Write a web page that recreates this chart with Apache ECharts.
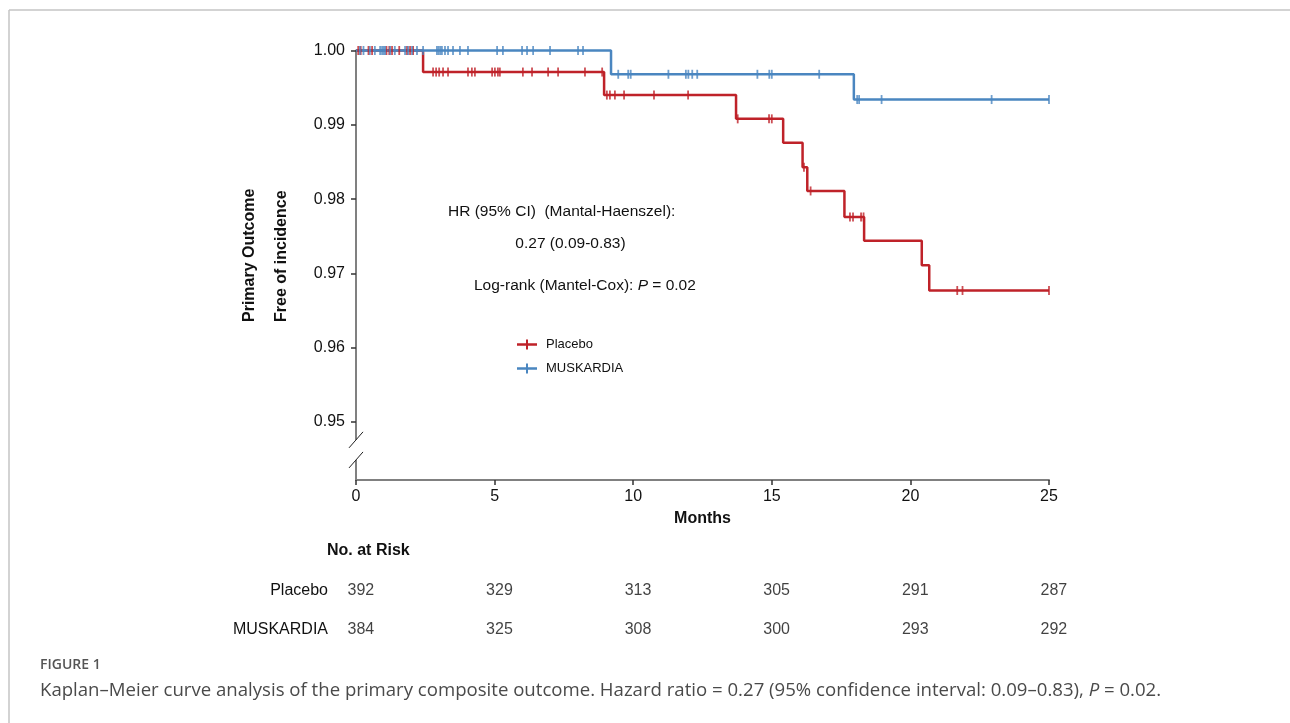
<!DOCTYPE html>
<html>
<head>
<meta charset="utf-8">
<script src="https://cdn.jsdelivr.net/npm/echarts@6/dist/echarts.min.js"></script>
<style>
html,body{margin:0;padding:0;background:#fff;}
#chart{width:1290px;height:723px;}
</style>
</head>
<body>
<div id="chart"></div>
<script>
// ---- Data ----
const placeboTimes = [0, 2.42, 8.95, 13.71, 15.41, 16.11, 16.28, 17.62, 18.33, 20.41, 20.68, 25];
const placeboSurv  = [1.0, 0.9971, 0.9940, 0.9908, 0.9876, 0.9843, 0.9811, 0.9776, 0.9744, 0.9711, 0.9677, 0.9677];
const muskTimes = [0, 9.2, 17.96, 25];
const muskSurv  = [1.0, 0.9968, 0.9934, 0.9934];

const placeboCensor = [0.08, 0.17, 0.45, 0.58, 1.1, 1.2, 1.3, 1.56, 1.84, 1.95, 2.06,
  2.78, 2.89, 3.0, 3.14, 3.32, 4.04, 4.18, 4.29, 4.91, 5.01, 5.12, 5.19, 6.02, 6.35, 6.93, 7.29, 8.26, 8.88,
  9.05, 9.16, 9.34, 9.67, 10.75, 11.98,
  13.77, 14.9, 15.0, 16.16, 16.4, 17.82, 17.93, 18.22, 18.31, 21.69, 21.88, 25.0];
const muskCensor = [0.14, 0.27, 0.5, 0.68, 0.87, 0.94, 1.0, 1.05, 1.23, 1.4, 1.77, 1.88, 2.02, 2.2, 2.42,
  2.92, 2.98, 3.04, 3.1, 3.21, 3.32, 3.5, 3.75, 4.04, 5.09, 5.3, 5.99, 6.17, 6.39, 7.0, 8.01, 8.19,
  9.46, 9.82, 9.91, 11.27, 11.9, 11.99, 12.13, 12.31, 14.48, 14.91, 15.0, 16.71,
  18.08, 18.15, 18.96, 22.93, 25.0];

const yTickValues = [0.95, 0.96, 0.97, 0.98, 0.99, 1.00];
const riskTimes   = [0, 5, 10, 15, 20, 25];
const riskGroups  = ['Placebo', 'MUSKARDIA'];
const riskPlacebo = [392, 329, 313, 305, 291, 287];
const riskMusk    = [384, 325, 308, 300, 293, 292];

// ---- Helpers ----
const RED = '#BF2229';
const BLUE = '#4A86C0';
const FONT = 'Liberation Sans';
const CAP_FONT = 'Open Sans';
function stepAt(times, surv, t) {
  let v = surv[0];
  for (let i = 0; i < times.length; i++) { if (times[i] <= t) v = surv[i]; }
  return v;
}
const placeboLine = placeboTimes.map((t, i) => [t, placeboSurv[i]]);
const muskLine = muskTimes.map((t, i) => [t, muskSurv[i]]);
const placeboMarks = placeboCensor.map(t => [t, stepAt(placeboTimes, placeboSurv, t)]);
const muskMarks = muskCensor.map(t => [t, stepAt(muskTimes, muskSurv, t)]);
const riskData = [];
riskTimes.forEach((t, i) => {
  riskData.push([t, riskGroups[0], riskPlacebo[i]]);
  riskData.push([t, riskGroups[1], riskMusk[i]]);
});

const chart = echarts.init(document.getElementById('chart'), null, {renderer: 'canvas'});
const plusIcon = 'path://M0,3.75 H9 V0 H11 V3.75 H20 V6.25 H11 V10 H9 V6.25 H0 Z';

function txt(x, y, text, size, opts) {
  opts = opts || {};
  return {
    type: 'text', x: x, y: y, rotation: opts.rotation || 0, z: 60,
    style: {
      text: text, fontSize: size, fontFamily: opts.family || FONT,
      fontWeight: opts.weight || 'normal', fontStyle: 'normal',
      fill: opts.fill || '#111', textAlign: opts.align || 'left', textVerticalAlign: 'middle',
      rich: opts.rich
    }
  };
}

const option = {
  animation: false,
  backgroundColor: '#ffffff',
  textStyle: {fontFamily: FONT},
  grid: [
    {left: 356, right: 241, top: 50.5, bottom: 243},
    {left: 356, right: 241, top: 571.5, height: 78}
  ],
  xAxis: [
    {
      type: 'value', gridIndex: 0, min: 0, max: 25, interval: 5,
      name: 'Months', nameLocation: 'middle', nameGap: 31,
      nameTextStyle: {fontSize: 16, fontWeight: 'bold', color: '#111', fontFamily: FONT},
      axisLine: {lineStyle: {color: '#808080', width: 2}},
      axisTick: {show: true, length: 5, lineStyle: {color: '#333', width: 1.5}},
      axisLabel: {fontSize: 16, color: '#111', margin: 9, fontFamily: FONT},
      splitLine: {show: false}
    },
    {type: 'value', gridIndex: 1, min: 0, max: 25, show: false}
  ],
  yAxis: [
    {
      type: 'value', gridIndex: 0, min: 0.9422, max: 1.0,
      axisLine: {show: true, lineStyle: {color: '#808080', width: 2}},
      axisTick: {show: true, length: 5, customValues: yTickValues, lineStyle: {color: '#333', width: 1.5}},
      axisLabel: {customValues: yTickValues, fontSize: 16, color: '#111', margin: 11, fontFamily: FONT,
        formatter: v => Number(v).toFixed(2)},
      splitLine: {show: false}
    },
    {
      type: 'category', gridIndex: 1, data: riskGroups, inverse: true,
      axisLine: {show: false}, axisTick: {show: false},
      axisLabel: {fontSize: 16, color: '#111', margin: 28, fontFamily: FONT}
    }
  ],
  legend: {
    orient: 'vertical', left: 512, top: 333, itemWidth: 20, itemHeight: 10, itemGap: 11,
    data: [{name: 'Placebo', icon: plusIcon}, {name: 'MUSKARDIA', icon: plusIcon}],
    textStyle: {fontSize: 13, color: '#111', fontFamily: FONT, padding: [0, 0, 0, 4]}
  },
  series: [
    {name: 'Placebo', type: 'line', step: 'end', data: placeboLine, showSymbol: false, clip: false,
      color: RED, lineStyle: {color: RED, width: 2.5}, itemStyle: {color: RED}, z: 2},
    {name: 'MUSKARDIA', type: 'line', step: 'end', data: muskLine, showSymbol: false, clip: false,
      color: BLUE, lineStyle: {color: BLUE, width: 2.5}, itemStyle: {color: BLUE}, z: 3},
    {name: 'Placebo censored', type: 'scatter', data: placeboMarks, symbol: 'rect', symbolSize: [1.8, 9],
      itemStyle: {color: RED}, clip: false, z: 4},
    {name: 'MUSKARDIA censored', type: 'scatter', data: muskMarks, symbol: 'rect', symbolSize: [1.8, 9],
      itemStyle: {color: BLUE}, clip: false, z: 5},
    {name: 'At risk', type: 'scatter', xAxisIndex: 1, yAxisIndex: 1, data: riskData, symbolSize: 1,
      itemStyle: {color: 'rgba(0,0,0,0)'},
      label: {show: true, position: 'right', distance: -9, fontSize: 16, color: '#111', fontFamily: FONT,
        fontWeight: 'normal', formatter: p => String(p.data[2])}}
  ]
};
chart.setOption(option);

// ---- Decorations: frame, texts, axis break ----
const p1 = chart.convertToPixel({gridIndex: 0}, [0, 0.9476]);
const p2 = chart.convertToPixel({gridIndex: 0}, [0, 0.9449]);
const ax = p1[0];
const richN = {fontSize: 15.5, fontFamily: FONT, fill: '#111'};
const richI = {fontSize: 15.5, fontFamily: FONT, fontStyle: 'italic', fill: '#111'};
const capN = {fontSize: 18.6, fontFamily: CAP_FONT, fill: '#4a4a4a'};
const capI = {fontSize: 18.6, fontFamily: CAP_FONT, fontStyle: 'italic', fill: '#4a4a4a'};
const graphics = [
  {type: 'line', shape: {x1: 9, y1: 10, x2: 1290, y2: 10}, style: {stroke: '#c4c4c4', lineWidth: 1.5}},
  {type: 'line', shape: {x1: 9, y1: 10, x2: 9, y2: 723}, style: {stroke: '#c4c4c4', lineWidth: 1.5}},
  {type: 'rect', shape: {x: ax - 3, y: p1[1], width: 6, height: p2[1] - p1[1]}, style: {fill: '#fff'}, z: 50},
  {type: 'line', shape: {x1: ax - 7, y1: p1[1] + 8, x2: ax + 7, y2: p1[1] - 8}, style: {stroke: '#222', lineWidth: 1}, z: 51},
  {type: 'line', shape: {x1: ax - 7, y1: p2[1] + 8, x2: ax + 7, y2: p2[1] - 8}, style: {stroke: '#222', lineWidth: 1}, z: 51},
  txt(249.5, 322, 'Primary Outcome', 16, {weight: 'bold', rotation: Math.PI / 2}),
  txt(281.5, 322, 'Free of incidence', 16, {weight: 'bold', rotation: Math.PI / 2}),
  txt(448, 211.7, 'HR (95% CI)  (Mantal-Haenszel):', 15.5),
  txt(570.5, 244, '0.27 (0.09-0.83)', 15.5, {align: 'center'}),
  txt(474, 285.7, '{n|Log-rank (Mantel-Cox): }{i|P}{n| = 0.02}', 15.5, {rich: {n: richN, i: richI}}),
  txt(327, 551, 'No. at Risk', 16, {weight: 'bold'}),
  txt(40, 665, 'FIGURE 1', 14, {weight: '600', family: CAP_FONT, fill: '#555'}),
  txt(40, 691, '{n|Kaplan\u2013Meier curve analysis of the primary composite outcome. Hazard ratio = 0.27 (95% confidence interval: 0.09\u20130.83), }{i|P}{n| = 0.02.}', 18.6,
    {family: CAP_FONT, fill: '#4a4a4a', rich: {n: capN, i: capI}})
];
chart.setOption({graphic: graphics});
</script>
</body>
</html>
